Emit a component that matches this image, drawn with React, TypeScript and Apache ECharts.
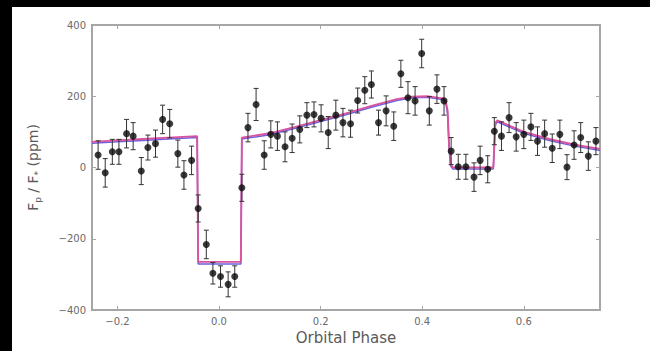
import React, { useEffect, useRef } from "react";
import * as echarts from "echarts";

// Binned eclipse / phase-curve measurements
const phase = [
  -0.238, -0.224, -0.210, -0.197, -0.182, -0.169, -0.153, -0.140, -0.125, -0.111, -0.097, -0.081, -0.069, -0.054,
  -0.041, -0.025, -0.012, 0.003, 0.018, 0.031, 0.045,
  0.057, 0.073, 0.089, 0.102, 0.115, 0.130, 0.144, 0.159, 0.173, 0.187, 0.201,
  0.215, 0.230, 0.244, 0.259, 0.273, 0.287, 0.300, 0.314, 0.329, 0.344, 0.358, 0.372, 0.386, 0.399, 0.414, 0.429, 0.443,
  0.457, 0.471, 0.486, 0.502, 0.514, 0.529,
  0.542, 0.556, 0.571, 0.585, 0.600, 0.614, 0.627, 0.641, 0.656, 0.671, 0.685, 0.699, 0.712, 0.727, 0.742,
];

const flux = [
  35, -15, 44, 44, 95, 88, -10, 56, 67, 135, 123, 39, -21, 20,
  -115, -216, -297, -306, -328, -306, -57,
  112, 177, 35, 93, 88, 58, 82, 107, 147, 149, 138,
  98, 147, 126, 123, 188, 217, 233, 126, 159, 116, 263, 196, 187, 320, 159, 220, 187,
  46, 2, 2, -27, 20, -5,
  102, 88, 140, 86, 93, 114, 74, 95, 54, 93, 1, 63, 84, 32, 74,
];

const fluxErr = [
  40, 40, 35, 35, 40, 38, 38, 35, 38, 40, 40, 38, 40, 40,
  38, 40, 30, 30, 35, 30, 38,
  40, 45, 40, 38, 40, 42, 40, 38, 35, 35, 38,
  45, 42, 40, 38, 35, 38, 38, 35, 42, 40, 38, 45, 40, 40, 40, 40, 40,
  38, 35, 35, 40, 40, 38,
  38, 40, 42, 40, 40, 38, 40, 38, 40, 40, 35, 40, 42, 40, 38,
];

// Best-fit model curves sampled in orbital phase
const modelPhase = [
  -0.25, -0.2, -0.15, -0.1, -0.043, -0.041, 0.043, 0.045, 0.1, 0.15, 0.2, 0.25, 0.3, 0.35, 0.38, 0.41, 0.44,
  0.446, 0.45, 0.453, 0.456, 0.46, 0.54, 0.544, 0.548, 0.6, 0.65, 0.7, 0.75,
];
const modelPink = [
  72, 76, 80, 84, 88, -265, -265, 84, 96, 114, 133, 152, 173, 192, 199, 200, 194,
  188, 160, 60, 10, 0, 0, 125, 132, 100, 80, 64, 52,
];
const modelBlue = [
  68, 72, 76, 80, 84, -271, -271, 80, 92, 110, 129, 148, 169, 188, 196, 197, 191,
  185, 150, 50, 4, -4, -4, 120, 128, 96, 76, 60, 48,
];

const xTicks = [-0.2, 0, 0.2, 0.4, 0.6];

const MINUS = "\u2212";
const fmtX = (v: number) => (v < -1e-9 ? MINUS : "") + Math.abs(v).toFixed(1);
const fmtY = (v: number) => (v < 0 ? MINUS + Math.abs(v) : String(v));

const FONT = "DejaVu Sans";
const FRAME = "#a6a6a6";
const TEXT = "#6a6a6a";
const NAME = "#5a5a5a";

export default function App() {
  const ref = useRef<HTMLDivElement>(null);

  useEffect(() => {
    if (!ref.current) return;
    const chart = echarts.init(ref.current, undefined, { renderer: "svg" });

    const points = phase.map((p, i) => [p, flux[i]]);
    const bars = phase.map((p, i) => [p, flux[i] - fluxErr[i], flux[i] + fluxErr[i]]);
    const pink = modelPhase.map((p, i) => [p, modelPink[i]]);
    const blue = modelPhase.map((p, i) => [p, modelBlue[i]]);

    const noLine = { show: false, onZero: false };

    const topX = {
      type: "value",
      min: -0.25,
      max: 0.75,
      position: "top",
      axisLine: noLine,
      axisLabel: { show: false },
      splitLine: { show: false },
      axisTick: { show: true, inside: true, length: 4, customValues: xTicks, lineStyle: { color: FRAME } },
    };
    const rightY = {
      type: "value",
      min: -400,
      max: 400,
      interval: 200,
      position: "right",
      axisLine: noLine,
      axisLabel: { show: false },
      splitLine: { show: false },
      axisTick: { show: true, inside: true, length: 4, lineStyle: { color: FRAME } },
    };

    chart.setOption({
      animation: false,
      backgroundColor: "#ffffff",
      grid: {
        left: 92,
        right: 50,
        top: 25,
        bottom: 41,
        show: true,
        borderColor: FRAME,
        borderWidth: 2,
        backgroundColor: "#ffffff",
      },
      xAxis: [
        {
          type: "value",
          min: -0.25,
          max: 0.75,
          position: "bottom",
          axisLine: noLine,
          splitLine: { show: false },
          axisTick: { show: true, inside: true, length: 4, customValues: xTicks, lineStyle: { color: FRAME } },
          axisLabel: {
            customValues: xTicks,
            formatter: fmtX,
            color: TEXT,
            fontSize: 10,
            fontFamily: FONT,
            margin: 6,
          },
          name: "Orbital Phase",
          nameLocation: "middle",
          nameGap: 19,
          nameTextStyle: { fontSize: 15, color: NAME, fontFamily: FONT },
        },
        topX,
      ],
      yAxis: [
        {
          type: "value",
          min: -400,
          max: 400,
          interval: 200,
          position: "left",
          axisLine: noLine,
          splitLine: { show: false },
          axisTick: { show: true, inside: true, length: 4, lineStyle: { color: FRAME } },
          axisLabel: { formatter: fmtY, color: TEXT, fontSize: 10, fontFamily: FONT, margin: 6 },
          name: "{a|F}{s|p}{a| / F}{s|*}{a| (ppm)}",
          nameLocation: "middle",
          nameGap: 50,
          nameTextStyle: {
            color: NAME,
            fontFamily: FONT,
            rich: {
              a: { fontSize: 14, color: NAME, fontFamily: FONT, lineHeight: 18 },
              s: { fontSize: 9, color: NAME, fontFamily: FONT, lineHeight: 18, verticalAlign: "bottom" },
            },
          },
        },
        rightY,
      ],
      graphic: [
        { type: "rect", left: 0, top: 0, shape: { width: 650, height: 7 }, style: { fill: "#000" }, z: 100 },
        { type: "rect", left: 0, top: 0, shape: { width: 12, height: 351 }, style: { fill: "#000" }, z: 100 },
      ],
      series: [
        {
          type: "line",
          data: blue,
          showSymbol: false,
          lineStyle: { color: "#6a62e0", width: 1.5 },
          z: 2,
        },
        {
          type: "line",
          data: pink,
          showSymbol: false,
          lineStyle: { color: "#d9539f", width: 1.9 },
          z: 3,
        },
        {
          type: "custom",
          data: bars,
          encode: { x: 0, y: [1, 2] },
          z: 4,
          renderItem: (_params: any, api: any) => {
            const x = api.value(0);
            const lo = api.coord([x, api.value(1)]);
            const hi = api.coord([x, api.value(2)]);
            const cap = 2.5;
            const style = { stroke: "#333", lineWidth: 1 };
            return {
              type: "group",
              children: [
                { type: "line", shape: { x1: lo[0], y1: lo[1], x2: hi[0], y2: hi[1] }, style },
                { type: "line", shape: { x1: lo[0] - cap, y1: lo[1], x2: lo[0] + cap, y2: lo[1] }, style },
                { type: "line", shape: { x1: hi[0] - cap, y1: hi[1], x2: hi[0] + cap, y2: hi[1] }, style },
              ],
            };
          },
        },
        {
          type: "scatter",
          data: points,
          symbol: "circle",
          symbolSize: 7,
          itemStyle: { color: "#0a0a0a" },
          z: 5,
        },
      ],
    });

    return () => chart.dispose();
  }, []);

  return (
    <div
      ref={ref}
      style={{ position: "fixed", left: 0, top: 0, width: 650, height: 351, background: "#fff" }}
    />
  );
}
